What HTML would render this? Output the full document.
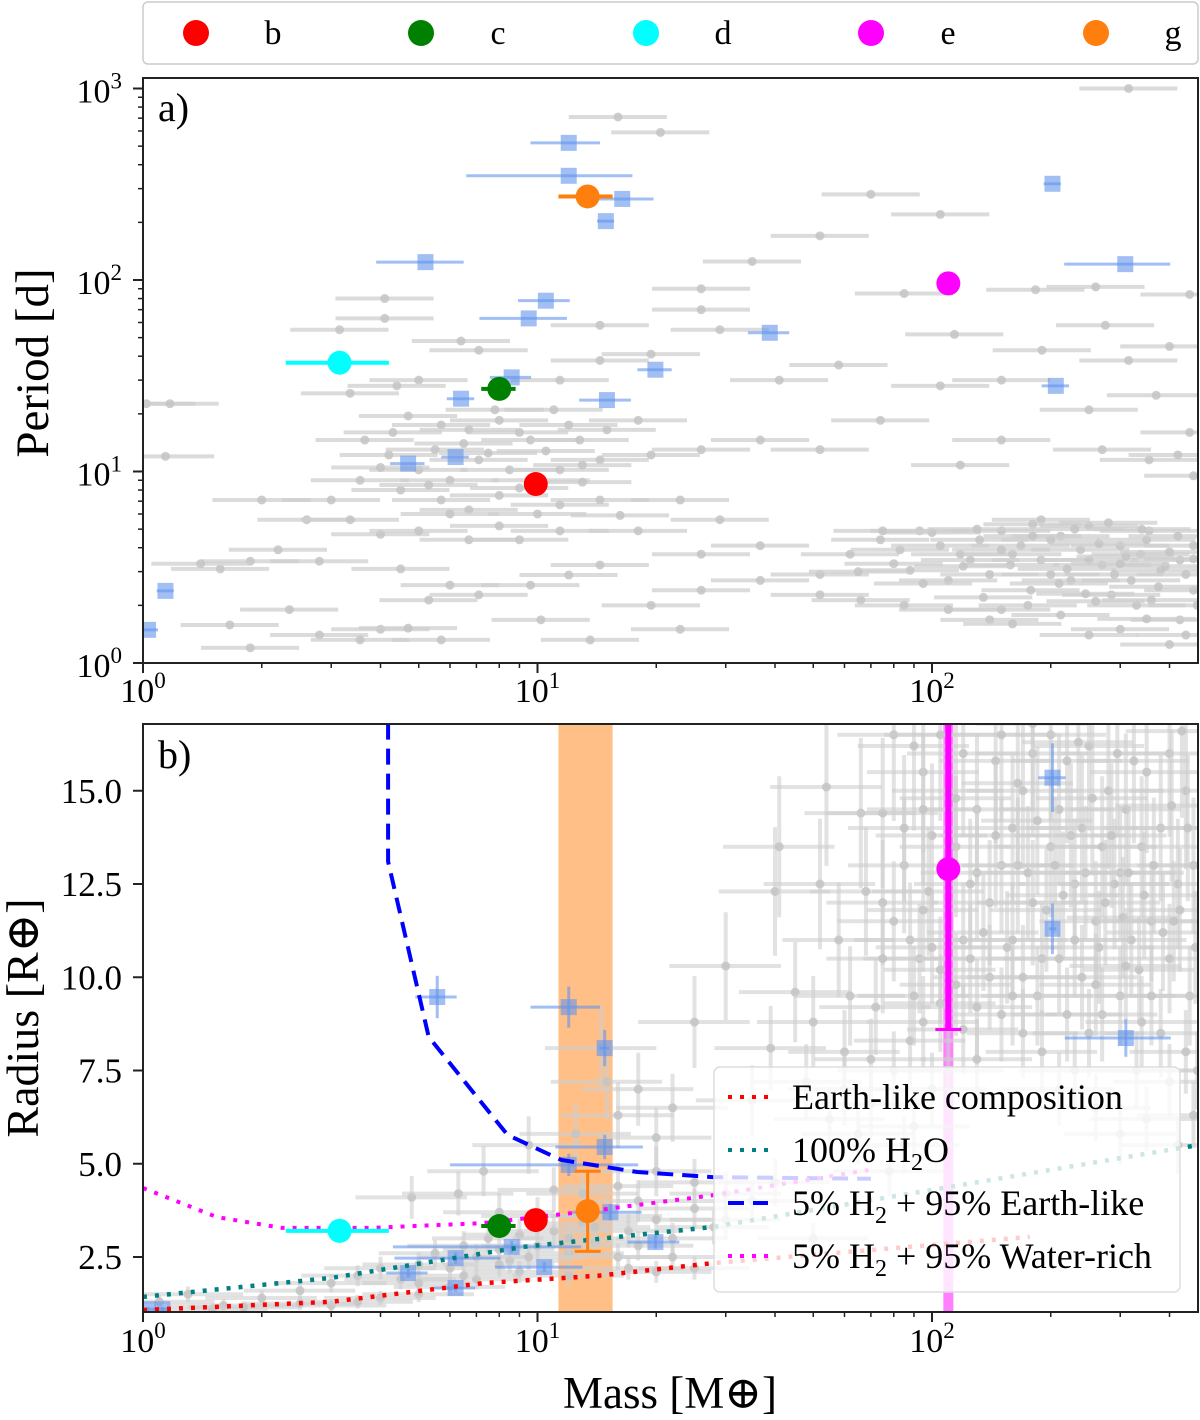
<!DOCTYPE html>
<html><head><meta charset="utf-8"><style>
body{margin:0;background:#fff;}
svg{display:block;font-family:"Liberation Serif","DejaVu Serif",serif;}
</style></head><body>
<svg id="chart" width="1200" height="1420" viewBox="0 0 1200 1420">
<defs>
<clipPath id="clipTop"><rect x="143" y="78" width="1055" height="585"/></clipPath>
<clipPath id="clipBot"><rect x="143" y="724" width="1055" height="588"/></clipPath>
</defs>
<g id="topLegend">
<rect x="143" y="2" width="1055" height="62" rx="5" fill="#fff" stroke="#ccc" stroke-width="1.5"/>
</g>
<g id="topPanel"></g>
<g id="botPanel"></g>
</svg>
<script>
// ---------- data ----------
const planetNames = ["b","c","d","e","g"];
const planetColors = ["#ff0000","#008000","#00ffff","#ff00ff","#ff7f0e"];
const planetMass = [9.9, 8.0, 3.15, 110, 13.4];
const planetMassLo = [9.9, 7.2, 2.3, 110, 11.3];
const planetMassHi = [9.9, 8.8, 4.2, 110, 15.5];
const planetPeriod = [8.6, 27, 37, 96, 273];
const planetRadius = [3.49, 3.33, 3.2, 12.9, 3.73];
const planetRadLo = [3.49, 3.33, 3.2, 8.6, 2.65];
const planetRadHi = [3.49, 3.33, 3.2, 17, 4.8];

const blueTopMass = [12,12,16.4,14.9,202,5.2,10.5,9.5,309,38.8,19.9,206,8.6,6.4,15,6.2,4.7,1.14,1.03];
const blueTopPeriod = [520,350,265,203,318,124,78,63,121,53,34,28,31,24,23.6,11.9,11,2.38,1.49];
const blueTopErr = [0.2,0.45,0.2,0.05,0.05,0.25,0.15,0.25,0.3,0.12,0.1,0.08,0.12,0.08,0.15,0.08,0.1,0.05,0.06];

const grayTopMass = [16,20.5,315,70,105,52,35,85,183,260,450,26,26,4.1,4.1,3.15,14.4,29,114,275,315,400,7.1,6.4,5.0,4.4,11.4,14.4,19.4,41,58,105,150,190,250,370,450,460,1.02,1.17,1.14,
3.35,4.7,5.7,6.7,8,9.6,11,12.8,15,18,3.65,4.2,5,6,7.1,8.5,11.4,14.4,19.4,26,36.7,52,74,150,270,355,420,118,3.55,4.5,5.7,6.7,8,11.4,14.4,16.2,23,3,2.6,3.35,4,5,6.7,9,11.4,18,29,36.7,2.2,1.87,1.57,1.4,2,2.8,4.5,6,7.1,5.3,9.6,12,14.4,19.4,26,2.35,2.8,4,4.7,5.7,3.55,1.66,1.87,10.2,13.6,23,10.2,
26,36.7,52,62,74,83,93,105,118,132,150,168,189,212,238,270,300,338,380,425,460,88,110,140,178,225,285,360,425,150,212,300,400,140,189,250,355,66,52,460,320,125,158,200,250,
80,95,120,135,160,175,200,220,245,265,290,310,330,350,375,400,440,460,100,130,180,230,280,340,420,85,110,160,250,350,440,470,65,75,180,210,260,390,300,150,
5.5,6.5,7.5,9,10.5,12,4.3,7.8,13,9,6,8,10,13,4,5.3];
const grayTopPeriod = [710,590,1000,280,220,170,125,85,89,92,84,90,70,80,63,55,58,55,52,58,38,45,43,48,30,28,30,38,41,30,36,28,30,43,21,25,16,9.5,22.6,22.6,12,
25.6,19.5,17.5,16.5,18.5,14.6,21,14.6,16.5,18.5,14.6,12.2,10.2,9.0,11.5,10.2,10.2,11.5,12.2,13,14.6,13,18.5,14.6,13,11.5,12.2,10.8,9.0,8,7.1,6.3,7.5,6.7,7.1,5.9,7.1,7.1,5.6,5.6,4.7,4.9,4.4,4.4,4.9,4.9,5.6,4.1,3.9,3.4,3.1,3.3,7.1,3.4,3.1,2.55,2.27,2.13,2.55,2.88,3.25,2.0,2.4,1.9,1.4,1.5,1.52,1.32,1.32,1.58,1.2,1.68,1.32,1.5,9.0,
3.7,2.7,2.9,3.7,4.4,3.9,4.9,4.1,3.7,4.4,4.9,4.1,3.45,4.6,3.9,3.25,4.1,3.7,3.05,3.45,2.4,3.05,2.7,2.9,2.4,2.7,2.27,2.13,1.68,1.9,1.78,1.5,1.25,1.68,5.6,5.2,4.9,2.13,2.27,4.1,2.7,3.45,3.25,2.9,3.45,
3.3,2.6,3.2,2.2,3.7,2.0,4.4,3.1,2.3,4.2,2.9,3.6,2.0,4.4,2.5,3.8,2.9,3.5,4.8,5.0,5.3,5.0,5.4,5.0,4.6,2.0,1.9,1.6,1.4,1.7,1.4,2.0,3.0,4.9,4.6,2.6,2.1,3.2,3.3,3.9,
13,14,12.5,16,12.8,17.5,16,21,10.8,8.2,6,5.2,6.0,8.8,10.5,8.5];

const blueBotMass = [1.03,1.12,5.57,12,14.8,14.8,12,15.3,8.6,10.4,6.2,4.7,6.2,19.9,202,202,310];
const blueBotRadius = [1.1,1.1,9.47,9.2,8.1,5.45,4.97,3.7,2.77,2.23,2.47,2.07,1.67,2.9,15.35,11.3,8.37];
const blueBotErr = [0.05,0.05,0.12,0.2,0.03,0.25,0.5,0.2,0.5,0.25,0.3,0.12,0.12,0.15,0.08,0.02,0.3];

const grayBotMass = [54,66,75,68,80,90,95,100,85,80,88,93,98,120,125,115,105,95,88,80,72,60,50,45,40,41,39,30,35,48,55,65,70,78,85,90,100,110,130,150,170,190,210,230,260,300,350,420,140,150,160,170,180,200,220,250,280,310,340,380,420,460,160,180,200,230,260,290,320,360,400,450,140,170,190,240,270,300,340,380,440,130,120,145,165,210,240,270,300,350,400,440,230,130,115,105,110,95,185,220,250,330,400,
1.1,1.3,1.6,2,2.5,3,3.5,4,4.5,5,5.5,6,6.5,7,7.5,8,8.5,9,10,11,12,13,14,15,16,17,18,20,22,25,28,6,5,7,9,12,4,3,1.5,10,8,11,13,16,18,20,25,4.8,6.3,7.3,14.5,15,16,12.5,9.5,20,22,25,18,30,35,40,50,25,60,
75,85,95,105,115,125,135,145,155,165,175,185,195,205,215,225,235,245,255,265,275,285,295,305,315,325,335,345,365,385,405,425,445,465,160,210,260,310,360,410,130,90,100,75,70,62,58,52,120,180,150,430,470,460,
3.5,5,6.5,8,9.5,12,14,17,22,30,20,2.5,1.8];
const grayBotRadius = [15.1,14.4,14.4,12.3,16.5,16.2,15.5,13.8,13,11.5,11,10.5,12.3,11,10.5,9.8,9.3,8.8,8.3,7.5,9.2,8.0,8.8,9.6,12.3,13.5,8.1,10.3,6.7,7.2,6.2,5.8,6.6,4.8,5.5,6.0,7.0,7.5,7.8,9.0,8.5,8.0,7.0,7.5,6.5,5.8,6.2,5.5,12,13,14,15,16,16.5,15.8,16.2,15,14.5,13.5,14,12.5,13,11,12,13.5,12.5,11.5,12.5,11,11.5,10.5,9.5,10,10,10.5,10,9,9.5,8.8,8.5,8.0,14.5,16,15.8,13,14.5,14,13.5,12.8,15.5,16,15,11,12.8,13.5,16.5,15,14.5,9.5,9,8.5,7.5,7.2,
1.3,1.5,1.2,1.4,1.6,1.8,2.0,2.2,1.9,2.3,2.6,2.2,2.8,2.5,3.0,2.7,2.4,3.1,2.8,3.2,2.6,3.4,2.9,3.6,2.5,3.2,2.8,3.5,3.0,3.8,3.3,1.7,1.5,1.9,2.1,2.0,1.4,1.2,1.1,3.6,3.7,4.3,4.2,4.4,4.0,4.8,4.5,4.1,4.2,4.8,8.1,7.2,6.3,5.8,5.5,5.7,6.5,8.8,7.0,4.2,4.0,4.5,3.0,2.2,7.0,
12,14,11.8,10.2,14.8,12.5,11.2,13.8,10.8,15.2,12.8,14.2,11.8,13,12.2,13.8,16.3,12.8,14.8,10.8,12,13.8,16,11.6,12.8,15.8,10.2,12.2,13,11.2,14.6,11.8,14,10.8,9.5,10.5,9.8,10.3,9.5,11.5,9.2,9.5,10.8,10.5,7.8,9.5,11,12.5,8.6,16.8,16.5,16.6,7.5,6.3,
1.3,1.8,2.0,2.3,2.5,3.0,3.3,2.2,2.5,3.5,2.1,1.25,1.15];

const earthMass = [1,3,7.3,14.3,28,177];
const earthRad = [1.08,1.3,1.8,2.0,2.34,3.04];
const waterMass = [1,3,9.2,28,100,472];
const waterRad = [1.43,1.94,2.77,3.31,4.3,5.5];
const h2EarthMass = [4.18,4.18,5.3,8.4,11.5,17.9,28,70];
const h2EarthRad = [16.8,13.1,8.4,5.77,5.1,4.78,4.64,4.6];
const h2WaterMass = [1.0,1.54,2.25,3.76,7.3,14.3,28,69];
const h2WaterRad = [4.35,3.57,3.28,3.28,3.41,3.76,4.16,4.83];

const bandLo = 11.3, bandHi = 15.5;

const xTickVals = [1,10,100];
const xTickExp = ["0","1","2"];
const yTopTickVals = [1,10,100,1000];
const yTopTickExp = ["0","1","2","3"];
const yBotTickVals = [2.5,5,7.5,10,12.5,15];
const yBotTickLabels = ["2.5","5.0","7.5","10.0","12.5","15.0"];

// ---------- axes ----------
const X0=143, X1=1198, DEC=394.5;
const xs = m => X0 + DEC*Math.log10(m);
const yTop = p => 663 - 191.5*Math.log10(p);
const yBot = r => 1257 - 37.3*(r-2.5);
const NS="http://www.w3.org/2000/svg";
function mk(tag, attrs, parent){const e=document.createElementNS(NS,tag);for(const k in attrs)e.setAttribute(k,attrs[k]);parent.appendChild(e);return e;}
const topG=document.getElementById('topPanel');
const botG=document.getElementById('botPanel');
const leg=document.getElementById('topLegend');

// top legend
planetNames.forEach((n,i)=>{
  const c=mk('circle',{cx:196+225*i,cy:33,r:13,fill:planetColors[i]},leg);
  
  
  const t=mk('text',{x:273+225*i,y:44,'font-size':34,'text-anchor':'middle',fill:'#000'},leg);
  t.textContent=n;
  
  
});

// ---------- top panel ----------
const tg=mk('g',{'clip-path':'url(#clipTop)'},topG);


grayTopMass.forEach((m,i)=>{
  const y=yTop(grayTopPeriod[i]);
  const l=mk('line',{x1:xs(m*0.75),x2:xs(m*1.33),y1:y,y2:y,stroke:'#cfcfcf','stroke-width':4,opacity:0.75},tg);
  
  
  const c=mk('circle',{cx:xs(m),cy:y,r:4.5,fill:'#c4c4c4',opacity:0.85},tg);
  
  
});
blueTopMass.forEach((m,i)=>{
  const y=yTop(blueTopPeriod[i]), e=blueTopErr[i];
  const l=mk('line',{x1:xs(m*(1-e)),x2:xs(m*(1+e)),y1:y,y2:y,stroke:'#6495ed','stroke-width':3,opacity:0.6},tg);
  
  
  const r=mk('rect',{x:xs(m)-8,y:y-8,width:16,height:16,fill:'#6495ed',opacity:0.6},tg);
  
  
});
planetNames.forEach((n,i)=>{
  const y=yTop(planetPeriod[i]);
  if(planetMassHi[i]>planetMassLo[i]){
    const l=mk('line',{x1:xs(planetMassLo[i]),x2:xs(planetMassHi[i]),y1:y,y2:y,stroke:planetColors[i],'stroke-width':4},tg);
    
    
  }
  const c=mk('circle',{cx:xs(planetMass[i]),cy:y,r:12,fill:planetColors[i]},tg);
  
  
});
mk('rect',{x:143,y:78,width:1055,height:585,fill:'none',stroke:'#222','stroke-width':2},topG);
const at=mk('text',{x:158,y:121,'font-size':40},topG); at.textContent='a)';
 

function xTicks(parent, yAxis, labelY){
  for(let d=0; d<3; d++){
    for(let k=1;k<=9;k++){
      const v=Math.pow(10,d)*k; const x=xs(v); if(x>X1) continue;
      mk('line',{x1:x,x2:x,y1:yAxis,y2:yAxis+(k==1?10:5),stroke:'#222','stroke-width':k==1?2:1.5},parent);
    }
  }
  xTickVals.forEach((v,i)=>{
    const t=mk('text',{x:xs(v),y:labelY,'font-size':34,'text-anchor':'middle'},parent);
    
    
    t.innerHTML='10<tspan dy="-14" font-size="23">'+xTickExp[i]+'</tspan>';
  });
}
xTicks(topG,663,702);
for(let d=0; d<4; d++){
  for(let k=1;k<=9;k++){
    const v=Math.pow(10,d)*k; const y=yTop(v); if(y<78) continue;
    mk('line',{x1:143,x2:143-(k==1?10:5),y1:y,y2:y,stroke:'#222','stroke-width':k==1?2:1.5},topG);
  }
}
yTopTickVals.forEach((v,i)=>{
  const t=mk('text',{x:122,y:yTop(v)+14,'font-size':34,'text-anchor':'end'},topG);
  
  
  t.innerHTML='10<tspan dy="-14" font-size="23">'+yTopTickExp[i]+'</tspan>';
});
const yt=mk('text',{x:0,y:0,'font-size':47,'text-anchor':'middle',transform:'translate(48,363) rotate(-90)'},topG);
yt.textContent='Period [d]';
 

// ---------- bottom panel ----------
const bg=mk('g',{'clip-path':'url(#clipBot)'},botG);


const band=mk('rect',{x:xs(bandLo),y:724,width:xs(bandHi)-xs(bandLo),height:588,fill:'#ff7f0e',opacity:0.5},bg);
 
const eb=mk('rect',{x:xs(planetMass[3])-5,y:724,width:10,height:588,fill:'#ff00ff',opacity:0.5},bg);
 
grayBotMass.forEach((m,i)=>{
  const r=grayBotRadius[i], x=xs(m), y=yBot(r);
  const l1=mk('line',{x1:xs(m*0.72),x2:xs(m*1.38),y1:y,y2:y,stroke:'#cfcfcf','stroke-width':4,opacity:0.6},bg);
  
  
  const l2=mk('line',{x1:x,x2:x,y1:yBot(r*0.86),y2:yBot(r*1.14),stroke:'#cfcfcf','stroke-width':4,opacity:0.6},bg);
  
  
  const c=mk('circle',{cx:x,cy:y,r:4.5,fill:'#c4c4c4',opacity:0.85},bg);
  
  
});
blueBotMass.forEach((m,i)=>{
  const r=blueBotRadius[i], e=blueBotErr[i], x=xs(m), y=yBot(r);
  const l=mk('line',{x1:xs(m*(1-e)),x2:xs(m*(1+e)),y1:y,y2:y,stroke:'#6495ed','stroke-width':3,opacity:0.6},bg);
  
  
  const l2=mk('line',{x1:x,x2:x,y1:yBot(r*0.94),y2:yBot(r*1.06),stroke:'#6495ed','stroke-width':3,opacity:0.6},bg);
  
  
  const s=mk('rect',{x:x-8,y:y-8,width:16,height:16,fill:'#6495ed',opacity:0.6},bg);
  
  
});
function curve(ms, rs, color, dash, w, name){
  const d=ms.map((m,i)=>(i?'L':'M')+xs(m).toFixed(1)+','+yBot(rs[i]).toFixed(1)).join(' ');
  const p=mk('path',{d:d,fill:'none',stroke:color,'stroke-width':w,'stroke-dasharray':dash},bg);
  
  
}
curve(earthMass,earthRad,'#ff0000','4 8',4.5,'earth-like-curve');
curve(waterMass,waterRad,'#008080','4 8',4.5,'water-curve');
curve(h2EarthMass,h2EarthRad,'#0000ff','16 9',4,'h2-earth-curve');
curve(h2WaterMass,h2WaterRad,'#ff00ff','4 8',4,'h2-water-curve');
planetNames.forEach((n,i)=>{
  const x=xs(planetMass[i]), y=yBot(planetRadius[i]), col=planetColors[i];
  if(planetMassHi[i]>planetMassLo[i] && n!=='g'){
    const l=mk('line',{x1:xs(planetMassLo[i]),x2:xs(planetMassHi[i]),y1:y,y2:y,stroke:col,'stroke-width':4},bg);
     
  }
  if(planetRadHi[i]>planetRadLo[i]){
    const l=mk('line',{x1:x,x2:x,y1:yBot(planetRadLo[i]),y2:yBot(planetRadHi[i]),stroke:col,'stroke-width':n==='e'?6:3},bg);
     
    [planetRadLo[i],planetRadHi[i]].forEach(v=>{
      mk('line',{x1:x-13,x2:x+13,y1:yBot(v),y2:yBot(v),stroke:col,'stroke-width':3},bg);
    });
  }
  const c=mk('circle',{cx:x,cy:y,r:12,fill:col},bg);
  
  
});
// legend
const lg=mk('g',{},botG);
 
mk('rect',{x:714,y:1067,width:466,height:225,rx:6,fill:'#fff','fill-opacity':0.8,stroke:'#ddd','stroke-width':1.5},lg);
const legItems=[['#ff0000','4 8','Earth-like composition'],['#008080','4 8','100% H<tspan font-size="24" dy="8">2</tspan><tspan dy="-8">O</tspan>'],['#0000ff','16 9','5% H<tspan font-size="24" dy="8">2</tspan><tspan dy="-8"> + 95% Earth-like</tspan>'],['#ff00ff','4 8','5% H<tspan font-size="24" dy="8">2</tspan><tspan dy="-8"> + 95% Water-rich</tspan>']];
legItems.forEach((it,i)=>{
  const y=1097+53*i;
  mk('line',{x1:728,x2:768,y1:y,y2:y,stroke:it[0],'stroke-width':4,'stroke-dasharray':it[1]},lg);
  const t=mk('text',{x:792,y:y+12,'font-size':36},lg);
  t.innerHTML=it[2];
  
  
});
mk('rect',{x:143,y:724,width:1055,height:588,fill:'none',stroke:'#222','stroke-width':2},botG);
const btl=mk('text',{x:158,y:768,'font-size':40},botG); btl.textContent='b)';
 
xTicks(botG,1312,1352);
yBotTickVals.forEach((v,i)=>{
  mk('line',{x1:143,x2:133,y1:yBot(v),y2:yBot(v),stroke:'#222','stroke-width':2},botG);
  const t=mk('text',{x:122,y:yBot(v)+12,'font-size':35,'text-anchor':'end'},botG);
  t.textContent=yBotTickLabels[i];
  
  
});
const ryt=mk('text',{x:0,y:0,'font-size':46,'text-anchor':'middle',transform:'translate(38,1018) rotate(-90)'},botG);
ryt.textContent='Radius [R⊕]';
 
const xt=mk('text',{x:670,y:1408,'font-size':45,'text-anchor':'middle'},botG);
xt.textContent='Mass [M⊕]';
 
</script>
</body></html>
